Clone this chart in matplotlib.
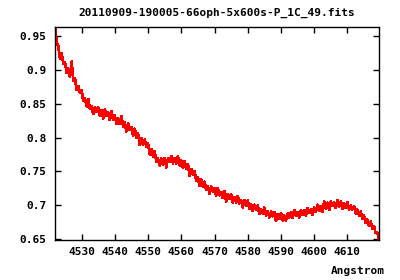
import numpy as np
import matplotlib
matplotlib.use("Agg")
import matplotlib.pyplot as plt

# spectrum, one value every 0.5 Angstrom
title = "20110909-190005-66oph-5x600s-P_1C_49.fits"
xlabel = "Angstrom"
wl_start = 4522.0
wl_step = 0.5
flux = [
    0.963, 0.940, 0.935, 0.916, 0.925, 0.909, 0.911, 0.895, 0.902, 0.890,
    0.912, 0.884, 0.888, 0.870, 0.876, 0.866, 0.870, 0.854, 0.858, 0.846,
    0.857, 0.843, 0.846, 0.835, 0.845, 0.838, 0.844, 0.832, 0.840, 0.828,
    0.842, 0.832, 0.837, 0.826, 0.839, 0.826, 0.833, 0.820, 0.828, 0.820,
    0.832, 0.816, 0.822, 0.809, 0.821, 0.811, 0.815, 0.802, 0.813, 0.800,
    0.806, 0.789, 0.799, 0.789, 0.797, 0.786, 0.791, 0.775, 0.783, 0.772,
    0.780, 0.764, 0.769, 0.759, 0.769, 0.760, 0.770, 0.756, 0.769, 0.764,
    0.773, 0.762, 0.770, 0.762, 0.773, 0.759, 0.766, 0.755, 0.765, 0.754,
    0.761, 0.743, 0.754, 0.745, 0.751, 0.736, 0.741, 0.729, 0.738, 0.728,
    0.735, 0.723, 0.728, 0.717, 0.728, 0.720, 0.725, 0.714, 0.726, 0.715,
    0.720, 0.711, 0.721, 0.706, 0.717, 0.710, 0.716, 0.704, 0.712, 0.704,
    0.714, 0.703, 0.707, 0.697, 0.708, 0.700, 0.707, 0.695, 0.702, 0.692,
    0.701, 0.693, 0.700, 0.687, 0.695, 0.688, 0.697, 0.685, 0.692, 0.682,
    0.691, 0.684, 0.690, 0.677, 0.687, 0.680, 0.689, 0.678, 0.685, 0.678,
    0.688, 0.682, 0.690, 0.682, 0.693, 0.685, 0.690, 0.682, 0.693, 0.686,
    0.693, 0.685, 0.696, 0.689, 0.694, 0.686, 0.697, 0.690, 0.701, 0.692,
    0.699, 0.691, 0.706, 0.695, 0.704, 0.693, 0.706, 0.699, 0.705, 0.696,
    0.708, 0.698, 0.706, 0.695, 0.703, 0.696, 0.705, 0.694, 0.700, 0.694,
    0.699, 0.688, 0.694, 0.685, 0.691, 0.681, 0.685, 0.674, 0.679, 0.670,
    0.676, 0.665, 0.669, 0.659, 0.660, 0.649,
]
xticks = [4530, 4540, 4550, 4560, 4570, 4580, 4590, 4600, 4610]
yticks = [0.65, 0.7, 0.75, 0.8, 0.85, 0.9, 0.95]

flux = np.array(flux)
wl = wl_start + wl_step * np.arange(len(flux))

font = dict(family="DejaVu Sans Mono", weight="bold", size=8)

fig = plt.figure(figsize=(4, 2.8), dpi=100)
ax = fig.add_axes([55 / 400, 1 - 240 / 280, 324 / 400, 213 / 280])
ax.plot(wl, flux, color="red", lw=1.2, antialiased=False)

# gnuplot style: range fixed to the data, mirrored inward ticks
ax.set_xlim(wl.min(), wl.max())
ax.set_ylim(flux.min(), flux.max())
ax.set_xticks(xticks)
ax.set_yticks(yticks)
ax.set_yticklabels([f"{v:g}" for v in yticks])
ax.tick_params(direction="in", length=4, width=1, top=True, right=True)
ax.tick_params(axis="x", pad=5)
ax.tick_params(axis="y", pad=6)
for lab in ax.get_xticklabels() + ax.get_yticklabels():
    lab.set_fontproperties(matplotlib.font_manager.FontProperties(**font))
for s in ax.spines.values():
    s.set_linewidth(1)

ax.set_title(title, pad=8, **font)
fig.text(385 / 400, 1 - 271 / 280, xlabel, ha="right", va="center", **font)

fig.savefig("out.png", dpi=100)
